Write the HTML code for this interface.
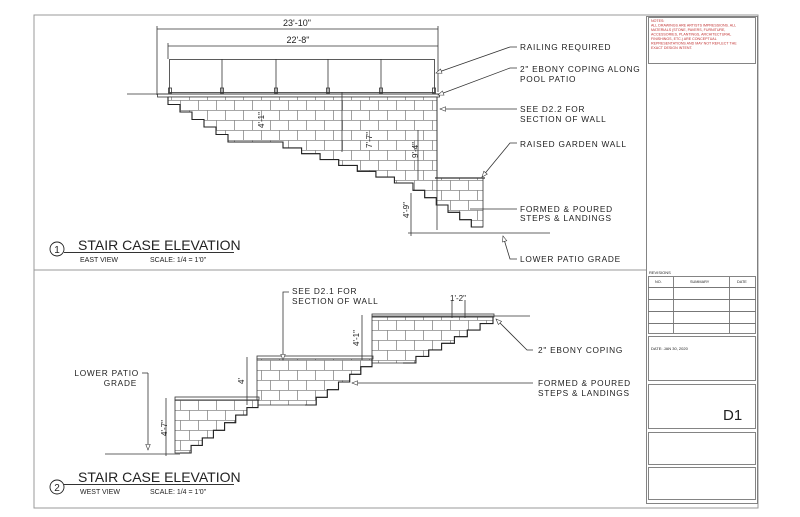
<!DOCTYPE html>
<html><head><meta charset="utf-8"><style>
html,body{margin:0;padding:0;background:#fff;width:800px;height:517px;overflow:hidden}
svg{display:block}
text{font-family:"Liberation Sans",sans-serif;fill:#222}
.lb{font-size:8.3px;letter-spacing:0.75px}
</style></head><body>
<svg id="s" width="800" height="517" viewBox="0 0 800 517" xmlns="http://www.w3.org/2000/svg">
<defs>
<pattern id="br" width="36" height="20" patternUnits="userSpaceOnUse">
<rect width="36" height="20" fill="#fff"/>
<path d="M0 0.5H36M0 10.5H36M0.5 0V10M18.5 0V10M9.5 10V20M27.5 10V20" stroke="#8a8a8a" stroke-width="0.8" fill="none"/>
</pattern>
<marker id="ar" viewBox="0 0 10 10" refX="10" refY="5" markerWidth="9" markerHeight="7" orient="auto-start-reverse"><path d="M0 1L10 5L0 9Z" fill="#fff" stroke="#333" stroke-width="1"/></marker>
</defs>
<g stroke="#999" fill="none" stroke-width="1">
<rect x="34" y="15" width="724" height="493"/>
<line x1="34" y1="270" x2="646" y2="270"/>
</g>
<g stroke="#777" fill="none" stroke-width="0.9">
<rect x="646.5" y="16.5" width="111" height="487"/>
<rect x="648.5" y="17.5" width="107" height="46"/>
<rect x="648.5" y="276.5" width="107" height="57"/>
<line x1="648" y1="287.5" x2="756" y2="287.5"/><line x1="648" y1="299.5" x2="756" y2="299.5"/><line x1="648" y1="311.5" x2="756" y2="311.5"/><line x1="648" y1="323.5" x2="756" y2="323.5"/>
<line x1="673.5" y1="277" x2="673.5" y2="333"/><line x1="729.5" y1="277" x2="729.5" y2="333"/>
<rect x="648.5" y="336.5" width="107" height="44"/>
<rect x="648.5" y="384.5" width="107" height="44"/>
<rect x="648.5" y="432.5" width="107" height="32"/>
<rect x="648.5" y="467.5" width="107" height="32"/>
</g>
<g font-size="3.6">
<text x="651" y="22" style="fill:#c03030">NOTES:</text>
<text x="651" y="26.5" style="fill:#c03030">ALL DRAWINGS ARE ARTISTS IMPRESSIONS. ALL</text>
<text x="651" y="31" style="fill:#c03030">MATERIALS (STONE, PAVERS, FURNITURE,</text>
<text x="651" y="35.5" style="fill:#c03030">ACCESSORIES, PLANTINGS, ARCHITECTURAL</text>
<text x="651" y="40" style="fill:#c03030">FINISHINGS, ETC.) ARE CONCEPTUAL</text>
<text x="651" y="44.5" style="fill:#c03030">REPRESENTATIONS AND MAY NOT REFLECT THE</text>
<text x="651" y="49" style="fill:#c03030">EXACT DESIGN INTENT.</text>
</g>
<text x="649" y="274" font-size="4">REVISIONS</text>
<text x="655" y="283" font-size="3.8">NO.</text>
<text x="690" y="283" font-size="3.8">SUMMARY</text>
<text x="737" y="283" font-size="3.8">DATE</text>
<text x="651" y="350" font-size="4">DATE: JAN 30, 2020</text>
<text x="723" y="420" font-size="15">D1</text>

<g stroke="#333" fill="none" stroke-width="0.8">
<line x1="157" y1="29" x2="438" y2="29"/><line x1="157" y1="26" x2="157" y2="95"/><line x1="438" y1="26" x2="438" y2="92"/>
<line x1="168" y1="46" x2="438" y2="46"/><line x1="168" y1="43" x2="168" y2="59"/>
<rect x="169.5" y="59.5" width="265" height="33"/>
<line x1="222" y1="59" x2="222" y2="93"/><line x1="276" y1="59" x2="276" y2="93"/><line x1="328" y1="59" x2="328" y2="93"/><line x1="381" y1="59" x2="381" y2="93"/>
<rect x="168.5" y="88" width="3" height="5"/><rect x="220.5" y="88" width="3" height="5"/><rect x="274.5" y="88" width="3" height="5"/><rect x="326.5" y="88" width="3" height="5"/><rect x="379.5" y="88" width="3" height="5"/><rect x="432.5" y="88" width="3" height="5"/>
<line x1="127" y1="94" x2="440" y2="94"/>
<rect x="157.5" y="94" width="282" height="3"/>
</g>
<text x="297" y="26" font-size="9" text-anchor="middle">23'-10"</text>
<text x="298" y="43" font-size="9" text-anchor="middle">22'-8"</text>
<g id="g1"></g>
<g stroke="#333" fill="none" stroke-width="0.8">
<line x1="408" y1="233" x2="550" y2="233"/>
<line x1="411" y1="193" x2="411" y2="236"/>
<line x1="342" y1="92" x2="342" y2="152"/>
<line x1="418" y1="130" x2="418" y2="180"/>
</g>
<text transform="translate(264,120) rotate(-90)" font-size="8" text-anchor="middle">4'-1"</text>
<text transform="translate(372,140) rotate(-90)" font-size="8" text-anchor="middle">7'-7"</text>
<text transform="translate(418,150) rotate(-90)" font-size="8" text-anchor="middle">9'-4"</text>
<text transform="translate(409,210) rotate(-90)" font-size="8" text-anchor="middle">4'-9"</text>
<g stroke="#333" fill="none" stroke-width="0.8">
<polyline points="517,47 510,47 436,73" marker-end="url(#ar)"/>
<polyline points="517,68 510,68 438,95" marker-end="url(#ar)"/>
<line x1="517" y1="109" x2="440" y2="109" marker-end="url(#ar)"/>
<polyline points="517,143 510,143 482,177" marker-end="url(#ar)"/>
<line x1="517" y1="209" x2="470" y2="209"/>
<polyline points="517,259 510,259 503,236" marker-end="url(#ar)"/>
</g>
<g class="lb">
<text x="520" y="50">RAILING REQUIRED</text>
<text x="520" y="72">2" EBONY COPING ALONG</text>
<text x="520" y="82">POOL PATIO</text>
<text x="520" y="112">SEE D2.2 FOR</text>
<text x="520" y="122">SECTION OF WALL</text>
<text x="520" y="147">RAISED GARDEN WALL</text>
<text x="520" y="212">FORMED &amp; POURED</text>
<text x="520" y="221">STEPS &amp; LANDINGS</text>
<text x="520" y="262">LOWER PATIO GRADE</text>
</g>
<circle cx="57" cy="249" r="7" fill="none" stroke="#222" stroke-width="0.9"/>
<text x="57" y="253" font-size="10" text-anchor="middle">1</text>
<line x1="64" y1="252.5" x2="234" y2="252.5" stroke="#333" stroke-width="1"/>
<text x="78" y="250" font-size="14">STAIR CASE ELEVATION</text>
<text x="80" y="262" font-size="7">EAST VIEW</text>
<text x="150" y="262" font-size="7">SCALE: 1/4 = 1'0"</text>

<g id="g2"></g>
<g stroke="#333" fill="none" stroke-width="0.8">
<line x1="372" y1="316" x2="530" y2="316"/>
<rect x="372" y="314" width="122" height="3"/>
<rect x="257" y="356" width="116" height="3"/>
<rect x="175" y="397" width="84" height="3"/>
<line x1="105" y1="454" x2="180" y2="454"/>
<line x1="166" y1="398" x2="166" y2="456"/>
<line x1="247" y1="357" x2="247" y2="405"/>
<line x1="362" y1="315" x2="362" y2="360"/>
<line x1="452" y1="300" x2="452" y2="318"/><line x1="465" y1="300" x2="465" y2="318"/>
<polyline points="148,373 148,450" marker-end="url(#ar)"/>
<line x1="142" y1="373" x2="148" y2="373"/>
<polyline points="289,292 283,292 283,360" marker-end="url(#ar)"/>
<polyline points="533,350 527,350 496,319" marker-end="url(#ar)"/>
<line x1="533" y1="383" x2="352" y2="383" marker-end="url(#ar)"/>
</g>
<text transform="translate(167,428) rotate(-90)" font-size="8" text-anchor="middle">4'-7"</text>
<text transform="translate(244,381) rotate(-90)" font-size="8" text-anchor="middle">4'</text>
<text transform="translate(359,338) rotate(-90)" font-size="8" text-anchor="middle">4'-1"</text>
<text x="458" y="301" font-size="8" text-anchor="middle">1'-2"</text>
<g class="lb">
<text x="139" y="376" text-anchor="end">LOWER PATIO</text>
<text x="137" y="386" text-anchor="end">GRADE</text>
<text x="292" y="294">SEE D2.1 FOR</text>
<text x="292" y="304">SECTION OF WALL</text>
<text x="538" y="353">2" EBONY COPING</text>
<text x="538" y="386">FORMED &amp; POURED</text>
<text x="538" y="396">STEPS &amp; LANDINGS</text>
</g>
<circle cx="57" cy="487" r="7" fill="none" stroke="#222" stroke-width="0.9"/>
<text x="57" y="491" font-size="10" text-anchor="middle">2</text>
<line x1="64" y1="484.5" x2="234" y2="484.5" stroke="#333" stroke-width="1"/>
<text x="78" y="482" font-size="14">STAIR CASE ELEVATION</text>
<text x="80" y="494" font-size="7">WEST VIEW</text>
<text x="150" y="494" font-size="7">SCALE: 1/4 = 1'0"</text>
</svg>
<script>
var NS="http://www.w3.org/2000/svg";
function st(x0,y0,x1,y1,n){var p=[[x0,y0]],dx=(x1-x0)/n,dy=(y1-y0)/n,x=x0,y=y0;for(var i=0;i<n;i++){y+=dy;p.push([x,y]);x+=dx;p.push([x,y]);}return p;}
function add(g,tag,a){var e=document.createElementNS(NS,tag);for(var k in a)e.setAttribute(k,a[k]);g.appendChild(e);return e;}
function ps(p){return p.map(function(q){return q[0].toFixed(1)+","+q[1].toFixed(1)}).join(" ");}
var g1=document.getElementById("g1");
var f1=st(168,97,240,142,6),f2=st(283,142,413,183,7),f3=st(413,183,483,227,6);
var stairs=f1.concat([[283,142]]).concat(f2.slice(1)).concat(f3.slice(1));
var wall=[[168,97],[437,97],[437,178],[483,178],[483,227]].concat(stairs.slice().reverse());
add(g1,"polygon",{points:ps(wall),fill:"url(#br)",stroke:"#333","stroke-width":"0.8"});
add(g1,"polyline",{points:ps(stairs),fill:"none",stroke:"#222","stroke-width":"1.1"});
add(g1,"line",{x1:437,y1:97,x2:437,y2:230,stroke:"#333","stroke-width":"0.8"});
add(g1,"line",{x1:435,y1:178,x2:485,y2:178,stroke:"#333","stroke-width":"1.2"});
var g2=document.getElementById("g2");
function wallW(xl,xr,yt,yb,sx0,sy0,sx1,sy1,n){var s=st(sx0,sy0,sx1,sy1,n);var poly=[[xl,yt],[xr,yt],[xr,sy0]].concat(s).concat([[sx1,yb],[xl,yb]]);
add(g2,"polygon",{points:ps(poly),fill:"url(#br)",stroke:"#333","stroke-width":"0.8"});
add(g2,"polyline",{points:ps(s),fill:"none",stroke:"#222","stroke-width":"1.1"});}
wallW(372,493,317,363,493,317,403,363,7);
wallW(257,372,359,405,372,359,305,405,6);
wallW(175,258,400,453,258,400,180,453,7);
</script>
</body></html>
